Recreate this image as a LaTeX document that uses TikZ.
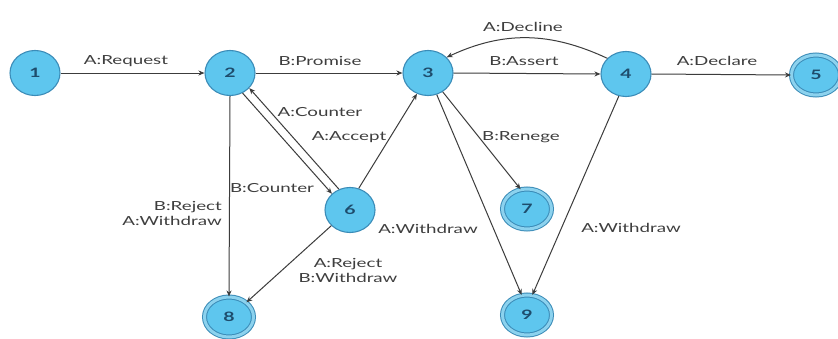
\documentclass[tikz,border=0pt]{standalone}
\usepackage{fontspec}
\setmainfont{Lato}[FakeStretch=1.5]
\usetikzlibrary{shapes.geometric,arrows.meta,calc}

\definecolor{stateFill}{HTML}{5EC6EE}
\definecolor{stateLine}{HTML}{3B8CB8}
\definecolor{finalBand}{HTML}{8CD2EE}
\definecolor{numText}{HTML}{1E4C6C}
\definecolor{edgeGray}{HTML}{3C3C3C}
\definecolor{labelGray}{HTML}{3E3E3E}

\tikzset{
  state/.style={ellipse, draw=stateLine, line width=1.1pt, fill=stateFill,
    minimum width=50pt, minimum height=45pt, inner sep=0pt,
    font=\fontsize{13}{13}\selectfont\bfseries, text=numText},
  final/.style={state, double=finalBand, double distance=3pt, line width=1pt,
    minimum width=49pt, minimum height=40pt},
  trans/.style={draw=edgeGray, line width=1pt, -{Stealth[length=6pt,width=5pt]}},
  lbl/.style={font=\fontsize{12.5}{15}\selectfont, text=labelGray, inner sep=1pt}
}

\begin{document}
\begin{tikzpicture}[x=1pt, y=-1pt]
  \useasboundingbox[fill=white] (0,0) rectangle (838,338);

  % states
  \node[state] (n1) at (35,73) {1};
  \node[state] (n2) at (230,73) {2};
  \node[state] (n3) at (428,73) {3};
  \node[state] (n4) at (626,74) {4};
  \node[final] (n5) at (816,75) {5};
  \node[state] (n6) at (350,210) {6};
  \node[final] (n7) at (527,209) {7};
  \node[final] (n8) at (229,317) {8};
  \node[final] (n9) at (527,315) {9};

  % transitions
  \draw[trans] (n1) -- (n2);
  \draw[trans] (n2) -- (n3);
  \draw[trans] (n3.east) -- (n4.west);
  \draw[trans] (n4.east) -- (n5.west);
  \draw[trans] (n4.140) to[out=155, in=25] (n3.40);
  \draw[trans] (n6.118) -- (n2.-38);
  \draw[trans] (n2.-58) -- (n6.138);
  \draw[trans] (n6.68) -- (n3.-118);
  \draw[trans] (n2.south) -- (n8.north);
  \draw[trans] (n6.-140) -- (n8.40);
  \draw[trans] (n3.-52) -- (n7.108);
  \draw[trans] (n3.-68) -- (n9.105);
  \draw[trans] (n4.-108) -- (n9.75);

  % transition labels
  \node[lbl] (lReq) at (126,61) {A:Request};
  \node[lbl] (lProm) at (320,61) {B:Promise};
  \node[lbl] (lAss) at (524,61) {B:Assert};
  \node[lbl] (lDec) at (523,27) {A:Decline};
  \node[lbl] (lDecl) at (717,61) {A:Declare};
  \node[lbl] (lCnt) at (320,112) {A:Counter};
  \node[lbl] (lAcc) at (349,137) {A:Accept};
  \node[lbl] (lRen) at (521,137) {B:Renege};
  \node[lbl] (lBCnt) at (272,188) {B:Counter};
  \node[lbl, align=right, anchor=east] (lRej) at (223,213) {B:Reject\\A:Withdraw};
  \node[lbl, align=center] (lRej6) at (348,270) {A:Reject\\B:Withdraw};
  \node[lbl] (lWd3) at (428,229) {A:Withdraw};
  \node[lbl] (lWd4) at (631,228) {A:Withdraw};
\end{tikzpicture}
\end{document}
